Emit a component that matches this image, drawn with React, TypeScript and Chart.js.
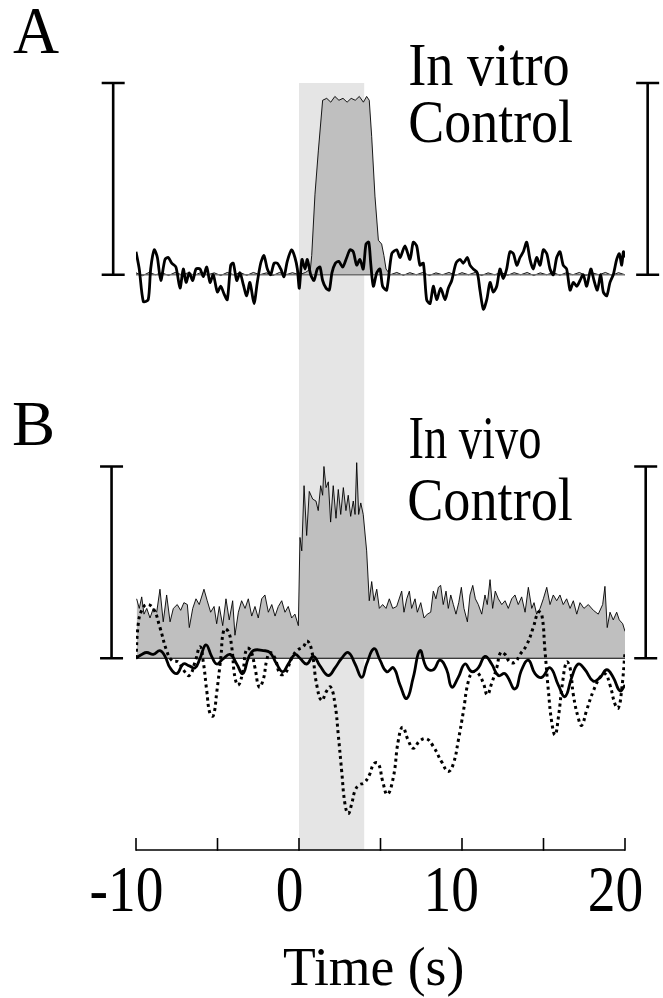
import React, { useEffect, useRef } from 'react';
import { Chart, registerables } from 'chart.js';

Chart.register(...registerables);

// ---------- axis / annotation values ----------
const xTickValues = [-10, -5, 0, 5, 10, 15, 20];
const xTickLabels = ['-10', '', '0', '', '10', '', '20'];
const xTitle = 'Time (s)';
const stimulusWindow = [0, 4];
const scaleBarSize = 1;
const panelLetters = ['A', 'B'];
const panelTitleA = ['In vitro', 'Control'];
const panelTitleB = ['In vivo', 'Control'];

// ---------- Panel A: in vitro response (gray filled) [time s, value] ----------
const aInVitroResponse: [number, number][] = [
  [-10, 0.01], [-9.6, -0.005], [-9.2, 0.012], [-8.8, 0], [-8.4, 0.01], [-8, -0.004], [-7.6, 0.012], [-7.2, 0],
  [-6.8, 0.01], [-6.4, -0.003], [-6, 0.013], [-5.6, 0], [-5.2, 0.01], [-4.8, -0.004], [-4.4, 0.012], [-4, 0],
  [-3.6, 0.011], [-3.2, -0.003], [-2.8, 0.012], [-2.4, 0], [-2, 0.01], [-1.6, -0.004], [-1.2, 0.012], [-0.8, 0],
  [-0.4, 0.011], [0, 0], [0.4, 0.012], [0.7, 0.03], [0.78, 0.1], [0.98, 0.42], [1.19, 0.65], [1.45, 0.91],
  [1.7, 0.92], [1.95, 0.9], [2.2, 0.93], [2.45, 0.91], [2.7, 0.92], [2.95, 0.9], [3.2, 0.92], [3.45, 0.91],
  [3.7, 0.93], [3.95, 0.9], [4.15, 0.93], [4.31, 0.91], [4.46, 0.72], [4.66, 0.41], [4.87, 0.18], [5.07, 0.16],
  [5.21, 0.1], [5.34, 0.03], [5.6, 0], [6, 0.012], [6.4, -0.003], [6.8, 0.011], [7.2, 0], [7.6, 0.012],
  [8, -0.004], [8.4, 0.01], [8.8, 0], [9.2, 0.012], [9.6, -0.003], [10, 0.011], [10.4, 0], [10.8, 0.012],
  [11.2, -0.004], [11.6, 0.01], [12, 0], [12.4, 0.012], [12.8, -0.003], [13.2, 0.011], [13.6, 0], [14, 0.012],
  [14.4, -0.004], [14.8, 0.01], [15.2, 0], [15.6, 0.012], [16, -0.003], [16.4, 0.011], [16.8, 0], [17.2, 0.012],
  [17.6, -0.004], [18, 0.01], [18.4, 0], [18.8, 0.012], [19.2, -0.003], [19.6, 0.011], [20, 0],
];

// ---------- Panel A: control trace (thick black) ----------
const aControlTrace: [number, number][] = [
  [-10, 0.12], [-9.8, 0.03], [-9.55, -0.14], [-9.25, -0.13], [-9.1, 0.03], [-8.88, 0.13], [-8.69, 0.09], [-8.48, -0.03],
  [-8.22, 0.08], [-8.02, 0.09], [-7.81, 0.06], [-7.55, 0.04], [-7.3, -0.07], [-7.1, 0.03], [-6.93, -0.04], [-6.73, 0.01],
  [-6.52, -0.03], [-6.32, 0.03], [-6.07, 0.03], [-5.87, -0.01], [-5.66, 0.04], [-5.46, -0.04], [-5.26, 0], [-5.01, -0.09],
  [-4.8, -0.06], [-4.6, -0.1], [-4.4, -0.13], [-4.19, 0.05], [-4.03, 0.06], [-3.82, -0.03], [-3.62, 0.01], [-3.42, -0.05],
  [-3.21, -0.11], [-3.01, -0.04], [-2.76, -0.15], [-2.56, -0.04], [-2.35, 0.06], [-2.15, 0.1], [-1.94, 0.03], [-1.74, 0],
  [-1.53, 0.06], [-1.33, 0.06], [-1.12, 0.03], [-0.92, -0.01], [-0.72, 0.07], [-0.45, 0.13], [-0.25, 0.09], [-0.1, 0.03],
  [0.02, -0.07], [0.18, 0.08], [0.37, 0.03], [0.51, 0.08], [0.72, 0], [0.92, -0.03], [1.12, 0.03], [1.29, 0.04],
  [1.45, -0.03], [1.66, -0.07], [1.86, -0.08], [2.02, 0.01], [2.23, 0.06], [2.44, 0.07], [2.68, 0.04], [2.93, 0.09],
  [3.13, 0.13], [3.33, 0.12], [3.54, 0.05], [3.74, 0.08], [3.94, 0.03], [4.11, 0.16], [4.28, 0.17], [4.4, 0.06],
  [4.56, -0.06], [4.77, 0.01], [4.97, 0.03], [5.13, -0.06], [5.38, -0.08], [5.69, 0.11], [5.99, 0.13], [6.2, 0.09],
  [6.5, 0.15], [6.81, 0.08], [7.01, 0.17], [7.22, 0.15], [7.42, 0.05], [7.63, 0.06], [7.83, -0.13], [8.04, -0.15],
  [8.24, -0.06], [8.45, -0.13], [8.69, -0.07], [8.96, -0.13], [9.16, -0.07], [9.37, -0.03], [9.63, 0.06], [9.88, 0.08],
  [10.08, 0.06], [10.33, 0.09], [10.49, 0.05], [10.69, 0.03], [10.94, 0.01], [11.1, -0.08], [11.31, -0.18], [11.52, -0.13],
  [11.72, -0.04], [11.92, -0.09], [12.13, -0.06], [12.33, 0.03], [12.53, -0.02], [12.74, 0.03], [12.94, 0.12], [13.15, 0.11],
  [13.36, 0.05], [13.56, 0.09], [13.76, 0.12], [13.97, 0.17], [14.17, 0.08], [14.37, 0.03], [14.58, 0.09], [14.79, 0.05],
  [14.99, 0.13], [15.2, 0.11], [15.4, 0.03], [15.6, 0], [15.81, 0.09], [16.01, 0.12], [16.21, 0.05], [16.42, 0.03],
  [16.63, -0.08], [16.83, -0.04], [17.04, -0.06], [17.24, -0.03], [17.44, 0], [17.65, -0.06], [17.9, 0.03], [18.1, -0.03],
  [18.3, -0.08], [18.51, 0], [18.67, -0.09], [18.88, -0.11], [19.08, -0.04], [19.28, 0], [19.49, 0.08], [19.65, 0.11],
  [19.8, 0.05], [19.9, 0.12], [20, 0.09],
];

// ---------- Panel B: in vivo response (gray filled) ----------
const bInVivoResponse: [number, number][] = [
  [-9.96, 0.31], [-9.8, 0.26], [-9.65, 0.32], [-9.51, 0.23], [-9.34, 0.26], [-9.14, 0.21], [-8.94, 0.26], [-8.73, 0.24],
  [-8.53, 0.36], [-8.33, 0.19], [-8.12, 0.33], [-7.91, 0.19], [-7.71, 0.26], [-7.47, 0.28], [-7.26, 0.25], [-7.06, 0.29],
  [-6.85, 0.28], [-6.73, 0.16], [-6.52, 0.26], [-6.32, 0.31], [-6.12, 0.28], [-5.83, 0.36], [-5.63, 0.3], [-5.42, 0.24],
  [-5.21, 0.27], [-5.05, 0.18], [-4.89, 0.27], [-4.68, 0.17], [-4.48, 0.31], [-4.28, 0.2], [-4.07, 0.3], [-3.93, 0.12],
  [-3.72, 0.24], [-3.52, 0.3], [-3.31, 0.26], [-3.11, 0.31], [-2.9, 0.22], [-2.7, 0.27], [-2.5, 0.21], [-2.29, 0.31],
  [-2.09, 0.33], [-1.88, 0.24], [-1.67, 0.28], [-1.47, 0.22], [-1.27, 0.27], [-1.06, 0.3], [-0.86, 0.24], [-0.66, 0.27],
  [-0.45, 0.21], [-0.25, 0.23], [-0.04, 0.17], [0.06, 0.63], [0.17, 0.56], [0.31, 0.9], [0.47, 0.64], [0.63, 0.87],
  [0.84, 0.83], [1.04, 0.82], [1.18, 0.77], [1.33, 0.9], [1.45, 0.85], [1.53, 1.0], [1.66, 0.89], [1.8, 0.92],
  [1.94, 0.71], [2.1, 0.9], [2.27, 0.73], [2.41, 0.88], [2.56, 0.75], [2.72, 0.89], [2.88, 0.77], [3.02, 0.85],
  [3.17, 0.74], [3.33, 0.82], [3.44, 0.75], [3.54, 1.02], [3.66, 0.75], [3.79, 0.81], [3.94, 0.75], [4.15, 0.56],
  [4.31, 0.3], [4.46, 0.4], [4.6, 0.3], [4.77, 0.36], [4.93, 0.26], [5.13, 0.28], [5.34, 0.26], [5.54, 0.31],
  [5.75, 0.26], [5.99, 0.27], [6.3, 0.35], [6.44, 0.24], [6.61, 0.31], [6.77, 0.35], [6.91, 0.26], [7.12, 0.31],
  [7.26, 0.24], [7.47, 0.29], [7.67, 0.21], [7.87, 0.23], [8.08, 0.24], [8.24, 0.35], [8.4, 0.31], [8.55, 0.37],
  [8.69, 0.38], [8.85, 0.28], [9.02, 0.35], [9.16, 0.26], [9.31, 0.33], [9.47, 0.28], [9.63, 0.23], [9.8, 0.29],
  [9.96, 0.37], [10.12, 0.26], [10.33, 0.19], [10.49, 0.33], [10.66, 0.38], [10.82, 0.31], [11.0, 0.28], [11.21, 0.23],
  [11.41, 0.33], [11.55, 0.28], [11.72, 0.41], [11.88, 0.26], [12.04, 0.35], [12.23, 0.31], [12.44, 0.28], [12.64, 0.3],
  [12.84, 0.26], [13.05, 0.31], [13.25, 0.33], [13.45, 0.28], [13.66, 0.32], [13.87, 0.24], [14.07, 0.37], [14.28, 0.26],
  [14.42, 0.29], [14.58, 0.23], [14.79, 0.26], [14.99, 0.31], [15.2, 0.37], [15.4, 0.28], [15.6, 0.33], [15.81, 0.3],
  [16.01, 0.33], [16.21, 0.28], [16.42, 0.31], [16.63, 0.26], [16.83, 0.3], [17.04, 0.23], [17.24, 0.29], [17.48, 0.26],
  [17.75, 0.28], [18.06, 0.25], [18.36, 0.23], [18.63, 0.28], [18.77, 0.375], [18.91, 0.16], [19.08, 0.24], [19.28, 0.2],
  [19.49, 0.24], [19.65, 0.2], [19.86, 0.18], [20, 0.14],
];

// ---------- Panel B: solid smooth trace ----------
const bSolidTrace: [number, number][] = [
  [-10, 0], [-9.65, 0.02], [-9.34, 0.03], [-8.94, 0.02], [-8.53, 0.04], [-8.22, 0.01], [-7.91, -0.05], [-7.5, -0.08],
  [-7.1, -0.03], [-6.73, -0.04], [-6.38, -0.05], [-6.07, 0], [-5.71, 0.07], [-5.36, 0.01], [-5.05, -0.03], [-4.68, -0.005],
  [-4.23, 0.02], [-3.82, -0.03], [-3.45, -0.08], [-3.11, 0], [-2.8, 0.04], [-2.19, 0.04], [-1.78, 0.03], [-1.37, -0.03],
  [-1.0, -0.07], [-0.66, -0.03], [-0.25, 0.02], [0.06, 0], [0.47, -0.03], [0.88, 0.01], [1.29, -0.04], [1.8, -0.09],
  [2.21, -0.05], [2.62, 0], [3.02, 0.03], [3.44, -0.03], [3.85, -0.1], [4.15, -0.03], [4.6, 0.05], [4.97, -0.01],
  [5.38, -0.07], [5.79, -0.05], [6.2, -0.14], [6.61, -0.21], [7.01, -0.1], [7.42, 0.04], [7.83, -0.05], [8.24, -0.06],
  [8.65, -0.01], [9.06, -0.06], [9.37, -0.15], [9.77, -0.1], [10.18, -0.03], [10.6, -0.07], [11.0, -0.05], [11.41, 0.01],
  [11.82, -0.03], [12.23, -0.09], [12.64, -0.08], [13.25, -0.16], [13.66, -0.06], [14.07, -0.01], [14.48, -0.08], [14.89, -0.1],
  [15.4, -0.05], [15.91, -0.14], [16.32, -0.2], [16.73, -0.1], [17.13, -0.03], [17.55, -0.06], [18.06, -0.12], [18.47, -0.1],
  [18.88, -0.06], [19.28, -0.1], [19.69, -0.17], [20, -0.14],
];

// ---------- Panel B: dotted trace ----------
const bDottedTrace: [number, number][] = [
  [-10, 0], [-9.86, 0.18], [-9.65, 0.25], [-9.34, 0.28], [-8.94, 0.26], [-8.53, 0.16], [-8.12, 0.04], [-7.81, -0.01],
  [-7.4, -0.02], [-7.1, -0.06], [-6.73, -0.09], [-6.38, -0.02], [-6.07, 0.06], [-5.87, -0.02], [-5.66, -0.17], [-5.46, -0.29],
  [-5.26, -0.3], [-5.05, -0.18], [-4.8, 0], [-4.6, 0.15], [-4.34, 0.14], [-4.13, 0.06], [-3.93, -0.1], [-3.72, -0.14],
  [-3.45, -0.07], [-3.21, 0.05], [-2.96, 0.04], [-2.7, -0.05], [-2.44, -0.15], [-2.19, -0.11], [-1.98, -0.01], [-1.78, 0.03],
  [-1.47, 0], [-1.17, -0.08], [-0.86, -0.08], [-0.45, 0], [-0.14, 0.04], [0.26, 0.06], [0.51, 0.09], [0.78, 0.04],
  [1.09, -0.14], [1.39, -0.22], [1.7, -0.17], [1.94, -0.15], [2.21, -0.24], [2.41, -0.4], [2.62, -0.59], [2.82, -0.76],
  [3.02, -0.81], [3.23, -0.76], [3.44, -0.69], [3.7, -0.66], [3.99, -0.65], [4.31, -0.61], [4.6, -0.55], [4.87, -0.55],
  [5.13, -0.64], [5.42, -0.71], [5.79, -0.62], [6.09, -0.43], [6.36, -0.36], [6.71, -0.43], [7.01, -0.47], [7.42, -0.43],
  [7.83, -0.42], [8.24, -0.46], [8.75, -0.54], [9.16, -0.59], [9.47, -0.55], [9.77, -0.43], [10.08, -0.28], [10.39, -0.12],
  [10.69, -0.07], [11.0, -0.08], [11.31, -0.13], [11.55, -0.19], [11.82, -0.13], [12.13, -0.05], [12.37, 0.03], [12.64, 0.02],
  [12.94, -0.02], [13.25, -0.02], [13.56, 0.02], [13.97, 0.07], [14.37, 0.16], [14.68, 0.24], [14.89, 0.23], [15.09, 0.04],
  [15.3, -0.17], [15.5, -0.33], [15.71, -0.4], [15.91, -0.31], [16.18, -0.12], [16.42, -0.02], [16.63, -0.05], [16.83, -0.19],
  [17.13, -0.31], [17.34, -0.35], [17.65, -0.27], [18.06, -0.17], [18.47, -0.1], [18.77, -0.08], [19.08, -0.14], [19.39, -0.24],
  [19.59, -0.26], [19.8, -0.16], [20, 0.03],
];

const zeroLine: [number, number][] = [[-10, 0], [20, 0]];

const SERIF = '"Liberation Serif", "Times New Roman", serif';

function drawInk(ctx: CanvasRenderingContext2D, text: string, left: number, baseline: number, size: number, inkWidth: number) {
  ctx.save();
  ctx.font = `${size}px ${SERIF}`;
  ctx.textAlign = 'left';
  ctx.textBaseline = 'alphabetic';
  const m = ctx.measureText(text);
  const ink = m.actualBoundingBoxLeft + m.actualBoundingBoxRight;
  const sx = inkWidth / ink;
  ctx.translate(left + m.actualBoundingBoxLeft * sx, baseline);
  ctx.scale(sx, 1);
  ctx.fillStyle = '#000';
  ctx.fillText(text, 0, 0);
  ctx.restore();
}

function drawInkCentered(ctx: CanvasRenderingContext2D, text: string, cx: number, baseline: number, size: number, sx: number) {
  ctx.save();
  ctx.font = `${size}px ${SERIF}`;
  ctx.textAlign = 'left';
  ctx.textBaseline = 'alphabetic';
  const m = ctx.measureText(text);
  const ink = (m.actualBoundingBoxLeft + m.actualBoundingBoxRight) * sx;
  const left = cx - ink / 2;
  ctx.translate(left + m.actualBoundingBoxLeft * sx, baseline);
  ctx.scale(sx, 1);
  ctx.fillStyle = '#000';
  ctx.fillText(text, 0, 0);
  ctx.restore();
}

const decorPlugin = {
  id: 'decor',
  beforeDatasetsDraw(chart: any) {
    const { ctx, chartArea, scales } = chart;
    const x = scales.x;
    const x0 = x.getPixelForValue(stimulusWindow[0]);
    const x1 = x.getPixelForValue(stimulusWindow[1]);
    ctx.save();
    ctx.fillStyle = '#e5e5e5';
    ctx.fillRect(x0, chartArea.top, x1 - x0, chartArea.bottom - chartArea.top);
    ctx.restore();
  },
  afterDraw(chart: any) {
    const { ctx, chartArea, scales } = chart;
    const x = scales.x;
    const axisY = chartArea.bottom;

    // x axis line and upward ticks
    ctx.save();
    ctx.strokeStyle = '#000';
    ctx.lineWidth = 1.6;
    ctx.beginPath();
    ctx.moveTo(x.getPixelForValue(xTickValues[0]), axisY);
    ctx.lineTo(x.getPixelForValue(xTickValues[xTickValues.length - 1]), axisY);
    ctx.stroke();
    x.ticks.forEach((t: any) => {
      const px = x.getPixelForValue(t.value);
      ctx.beginPath();
      ctx.moveTo(px, axisY + 0.8);
      ctx.lineTo(px, axisY - 12);
      ctx.stroke();
    });
    ctx.restore();

    // tick labels
    x.ticks.forEach((t: any, i: number) => {
      const label = xTickLabels[i];
      if (!label) return;
      drawInkCentered(ctx, label, x.getPixelForValue(t.value) - 9.5, 911, 66, 0.84);
    });

    // axis title
    drawInk(ctx, xTitle, 284, 985, 55, 178);

    // scale bars
    const bar = (xv: number, scaleId: string) => {
      const ys = scales[scaleId];
      const px = x.getPixelForValue(xv);
      const y0 = ys.getPixelForValue(0);
      const y1 = ys.getPixelForValue(scaleBarSize);
      ctx.save();
      ctx.strokeStyle = '#000';
      ctx.lineWidth = 2.6;
      ctx.beginPath();
      ctx.moveTo(px, y0);
      ctx.lineTo(px, y1);
      ctx.moveTo(px - 11.5, y0);
      ctx.lineTo(px + 11.5, y0);
      ctx.moveTo(px - 11.5, y1);
      ctx.lineTo(px + 11.5, y1);
      ctx.stroke();
      ctx.restore();
    };
    bar(-11.4, 'yA');
    bar(21.39, 'yA');
    bar(-11.5, 'yB');
    bar(21.27, 'yB');

    // panel letters and titles
    drawInk(ctx, panelLetters[0], 13, 53, 68, 46);
    drawInk(ctx, panelLetters[1], 13, 445, 63, 39);
    drawInk(ctx, panelTitleA[0], 410, 85, 62, 158);
    drawInk(ctx, panelTitleA[1], 410, 142, 62, 162);
    drawInk(ctx, panelTitleB[0], 410, 458, 62, 130);
    drawInk(ctx, panelTitleB[1], 409, 520, 61, 163);
  },
};

const toXY = (arr: [number, number][]) => arr.map(([x, y]) => ({ x, y }));

export default function App() {
  const canvasRef = useRef<HTMLCanvasElement | null>(null);

  useEffect(() => {
    const canvas = canvasRef.current;
    if (!canvas) return;
    const chart = new Chart(canvas, {
      type: 'line',
      data: {
        datasets: [
          {
            label: 'In vitro control (trace)',
            data: toXY(aControlTrace),
            xAxisID: 'x',
            yAxisID: 'yA',
            borderColor: '#000',
            borderWidth: 2.8,
            tension: 0.25,
            fill: false,
            order: 0,
          },
          {
            label: 'A baseline',
            data: toXY(zeroLine),
            xAxisID: 'x',
            yAxisID: 'yA',
            borderColor: '#707070',
            borderWidth: 1.6,
            fill: false,
            order: 1,
          },
          {
            label: 'In vitro response',
            data: toXY(aInVitroResponse),
            xAxisID: 'x',
            yAxisID: 'yA',
            borderColor: '#000',
            borderWidth: 0.9,
            backgroundColor: '#bfbfbf',
            fill: 'origin',
            tension: 0,
            order: 2,
          },
          {
            label: 'In vivo control (solid)',
            data: toXY(bSolidTrace),
            xAxisID: 'x',
            yAxisID: 'yB',
            borderColor: '#000',
            borderWidth: 2.8,
            tension: 0.45,
            fill: false,
            order: 0,
          },
          {
            label: 'In vivo control (dotted)',
            data: toXY(bDottedTrace),
            xAxisID: 'x',
            yAxisID: 'yB',
            borderColor: '#000',
            borderWidth: 3,
            borderDash: [3, 3.5],
            borderCapStyle: 'butt',
            tension: 0.45,
            fill: false,
            order: 0,
          },
          {
            label: 'B baseline',
            data: toXY(zeroLine),
            xAxisID: 'x',
            yAxisID: 'yB',
            borderColor: '#000',
            borderWidth: 1,
            fill: false,
            order: 1,
          },
          {
            label: 'In vivo response',
            data: toXY(bInVivoResponse),
            xAxisID: 'x',
            yAxisID: 'yB',
            borderColor: '#000',
            borderWidth: 0.9,
            backgroundColor: '#bfbfbf',
            fill: 'origin',
            tension: 0,
            order: 2,
          },
        ],
      },
      options: {
        responsive: false,
        animation: false,
        devicePixelRatio: 1,
        layout: { padding: { left: 136, right: 38, top: 83, bottom: 148 } },
        plugins: {
          legend: { display: false },
          tooltip: { enabled: false },
        },
        elements: { point: { radius: 0 } },
        scales: {
          x: {
            type: 'linear',
            min: -10,
            max: 20,
            display: false,
            afterBuildTicks: (s: any) => {
              s.ticks = xTickValues.map((v) => ({ value: v }));
            },
          },
          yA: { type: 'linear', min: -3, max: 1, display: false },
          yB: { type: 'linear', min: -1, max: 3, display: false },
        },
      },
      plugins: [decorPlugin],
    } as any);
    return () => chart.destroy();
  }, []);

  return (
    <div style={{ position: 'absolute', left: 0, top: 0, width: 663, height: 998, background: '#fff' }}>
      <canvas ref={canvasRef} width={663} height={998} style={{ display: 'block', width: 663, height: 998 }} />
    </div>
  );
}
